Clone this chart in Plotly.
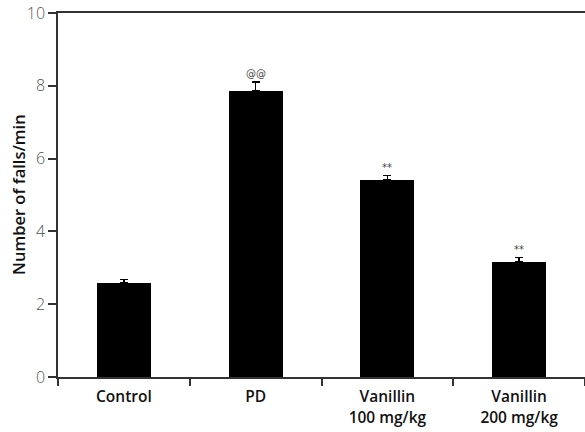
import plotly.graph_objects as go

categories = ["Control", "PD", "Vanillin<br>100 mg/kg", "Vanillin<br>200 mg/kg"]
values = [2.58, 7.87, 5.41, 3.16]
errors = [0.10, 0.24, 0.12, 0.12]
marks = ["", "@@", "**", "**"]
y_title = "Number of falls/min"

fig = go.Figure()
fig.add_trace(go.Bar(
    x=categories, y=values, width=0.41,
    marker=dict(color="black", line=dict(width=0)),
    error_y=dict(type="data", symmetric=False, array=errors,
                 arrayminus=[0] * len(errors), color="black",
                 thickness=1.5, width=4),
    showlegend=False,
))
for c, v, e, m in zip(categories, values, errors, marks):
    if m:
        fig.add_annotation(x=c, y=v + e, text=m, showarrow=False,
                           yanchor="bottom", yshift=1,
                           font=dict(size=10, color="#444", family="DejaVu Sans"))

fig.add_annotation(xref="paper", yref="paper", x=0, y=0.5, xshift=-40,
                   text=y_title, textangle=-90, showarrow=False,
                   xanchor="center", yanchor="middle",
                   font=dict(size=16.5, color="#111", family="Open Sans", weight=600))

fig.update_layout(
    width=585, height=432,
    margin=dict(l=58, r=0, t=13, b=55),
    paper_bgcolor="white", plot_bgcolor="white",
    font=dict(family="Open Sans", color="black"),
    bargap=0,
)
fig.update_xaxes(
    automargin=False,
    showline=True, linecolor="#333", linewidth=1.5, mirror=True,
    ticks="outside", ticklen=7, tickcolor="#333", tickwidth=1.5,
    tickson="boundaries", showgrid=False, ticklabelstandoff=5,
    tickfont=dict(size=15.5, color="#111", family="Open Sans", weight=600),
)
fig.update_yaxes(
    automargin=False,
    range=[0, 10], tickvals=[0, 2, 4, 6, 8, 10],
    showline=True, linecolor="#333", linewidth=1.5,
    ticks="outside", ticklen=8, tickcolor="#333", tickwidth=1.5,
    showgrid=False, zeroline=False,
    tickfont=dict(size=16, color="#555", family="Open Sans", weight=300),
)
fig.write_html("out.html", config={"displayModeBar": False},
               post_script="document.body.style.margin='0';document.body.style.overflow='hidden';")
